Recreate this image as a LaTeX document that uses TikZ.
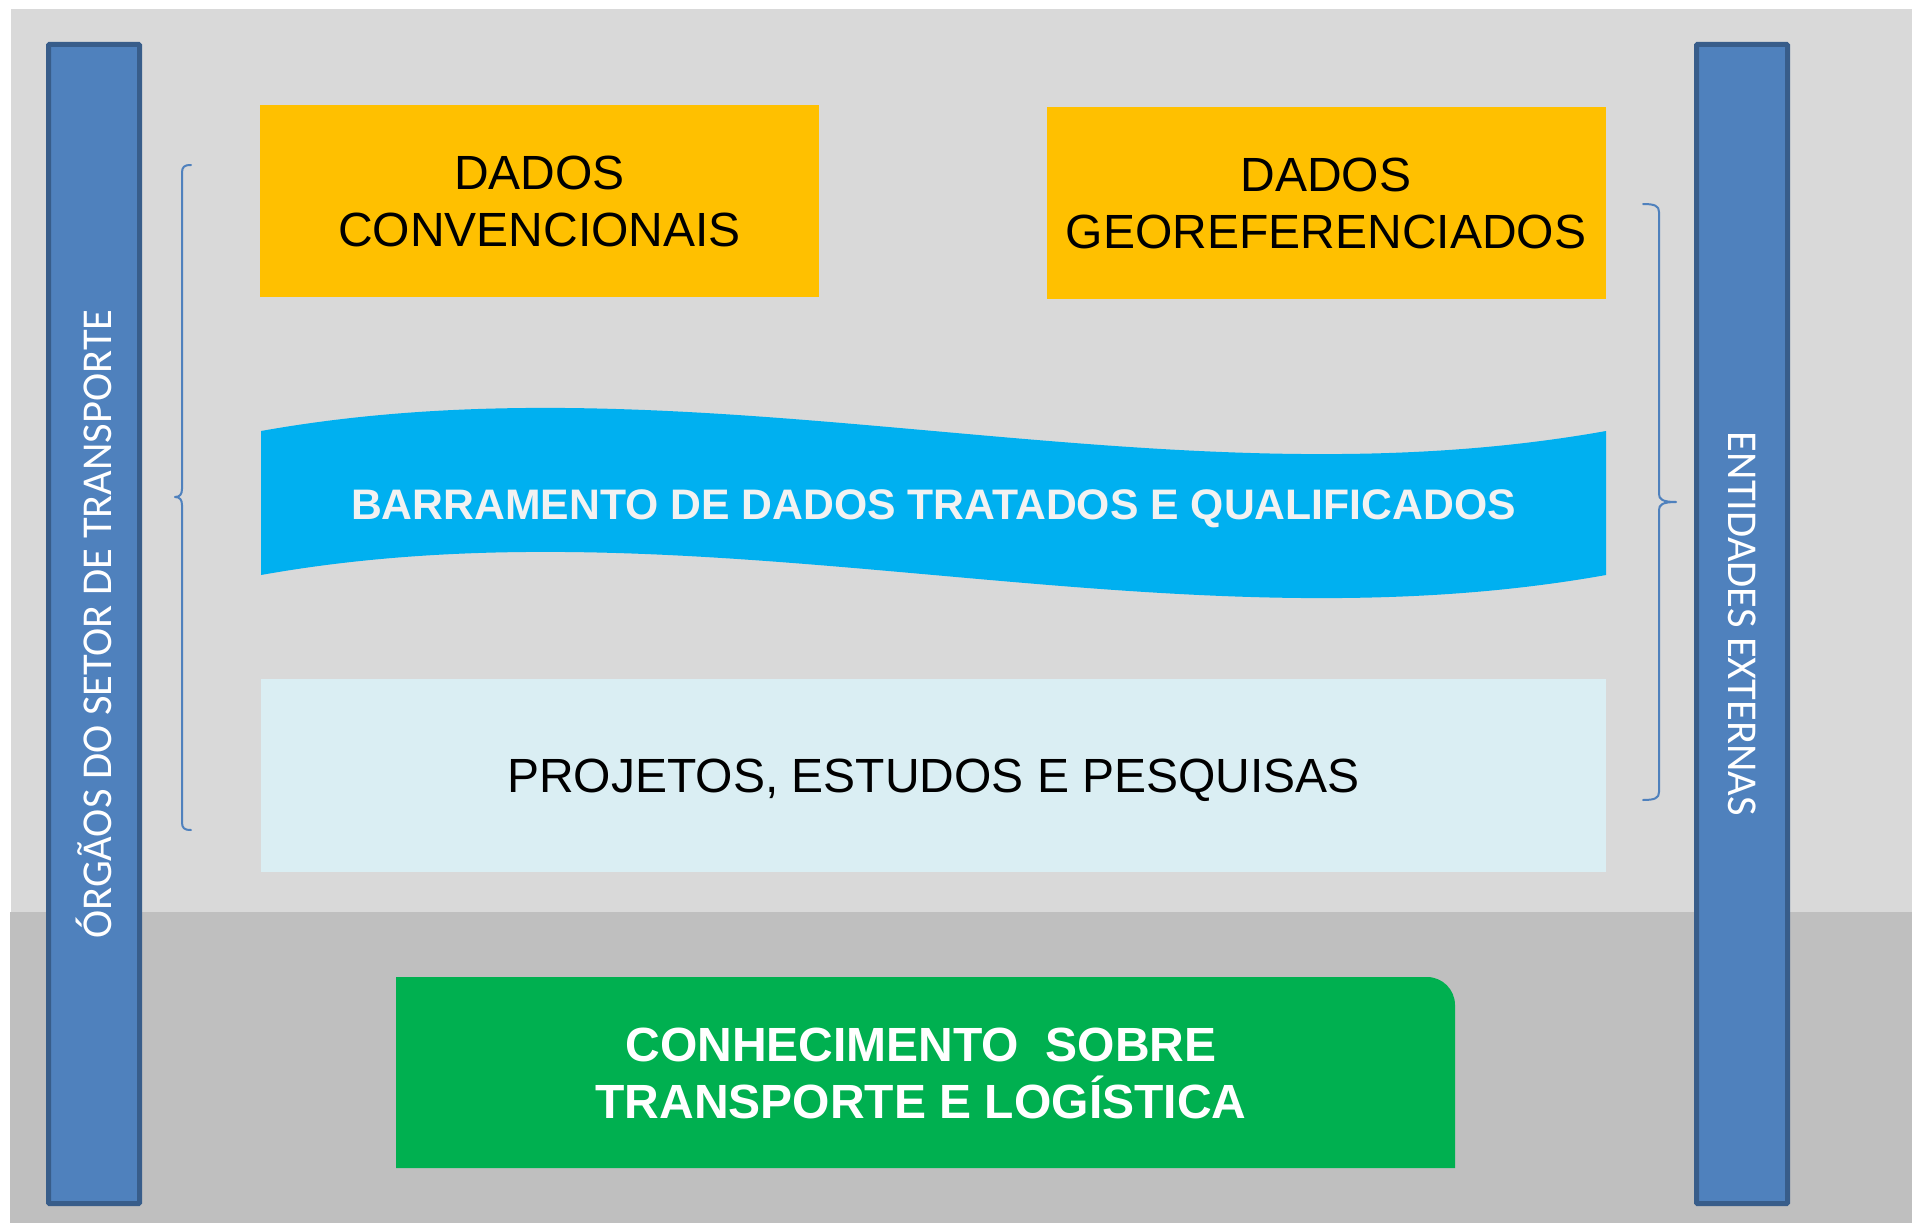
\documentclass[tikz,border=0pt]{standalone}
\usepackage{fontspec}
\setmainfont{Liberation Sans}
\newfontfamily\calibri{Carlito}
\definecolor{fundo}{HTML}{D9D9D9}
\definecolor{fundobaixo}{HTML}{BFBFBF}
\definecolor{amarelo}{HTML}{FFC000}
\definecolor{ciano}{HTML}{00B0F0}
\definecolor{azulclaro}{HTML}{DAEEF3}
\definecolor{verde}{HTML}{00B050}
\definecolor{azulbarra}{HTML}{4F81BD}
\definecolor{azulborda}{HTML}{385D8A}
\definecolor{branco}{HTML}{F2F2F2}
\begin{document}
\begin{tikzpicture}[
			x=1pt, y=-1pt,
			caixa/.style={inner sep=0pt, align=center, text depth=0pt, font=\fontsize{48}{57}\selectfont},
			amarela/.style={caixa, fill=amarelo, minimum width=559pt, minimum height=192pt},
			barra/.style={draw=azulborda, fill=azulbarra, line width=5pt, rounded corners=1pt,
				minimum width=1159pt, minimum height=91pt, inner sep=0pt, text=white,
				font=\calibri\fontsize{42.5}{50}\selectfont},
			chave/.style={line width=2pt, azulbarra, line cap=round, line join=round}]
			
			\useasboundingbox (0,0) rectangle (1912,1223);
			
			%% --- fundo: parte clara em cima, escura em baixo ---
			\fill[fundo] (11,9) rectangle (1912,912);
			\fill[fundobaixo] (10,912) rectangle (1912,1223);
			
			%% --- barras laterais ---
			\node[barra, rotate=90] (orgaos) at (94,624) {ÓRGÃOS DO SETOR DE TRANSPORTE};
			\node[barra, rotate=-90] (entidades) at (1742,624) {ENTIDADES EXTERNAS};
			
			%% --- dados de entrada ---
			\node[amarela] (convencionais) at (539.5,201) {DADOS\\CONVENCIONAIS};
			\node[amarela] (georref) at (1326,203) {DADOS\\GEOREFERENCIADOS};
			
			%% --- barramento (onda) ---
			\fill[ciano] (261,431) .. controls (709,351) and (1158,511) .. (1606,431)
				-- (1606,575) .. controls (1158,655) and (709,495) .. (261,575) -- cycle;
			\node[font=\bfseries\fontsize{42.7}{50}\selectfont, text=branco] (barramento)
				at (933.5,509) {BARRAMENTO DE DADOS TRATADOS E QUALIFICADOS};
			
			%% --- projetos ---
			\node[caixa, fill=azulclaro, minimum width=1345pt, minimum height=193pt] (projetos)
				at (933.5,775.5) {PROJETOS, ESTUDOS E PESQUISAS};
			
			%% --- conhecimento (canto superior direito arredondado) ---
			\fill[verde] (396,1168) -- (396,977) [rounded corners=28pt] -- (1455,977)
				[sharp corners] -- (1455,1168) -- cycle;
			\node[caixa, font=\bfseries\fontsize{48}{57}\selectfont, text=white] (conhecimento)
				at (921,1073) {CONHECIMENTO\ \ SOBRE\\TRANSPORTE E LOGÍSTICA};
			
			%% --- chaves ---
			\draw[chave] (191,165) .. controls (184,165) and (182,167) .. (182,173) -- (182,489)
				.. controls (182,494) and (180,497) .. (175,497)
				.. controls (180,497) and (182,500) .. (182,505) -- (182,822)
				.. controls (182,828) and (184,830) .. (191,830);
			\draw[chave] (1643,204) .. controls (1655,204) and (1659,206) .. (1659,212) -- (1659,494)
				.. controls (1659,499) and (1662,502) .. (1676,502)
				.. controls (1662,502) and (1659,505) .. (1659,510) -- (1659,792)
				.. controls (1659,798) and (1655,800) .. (1643,800);
			
		\end{tikzpicture}
\end{document}
